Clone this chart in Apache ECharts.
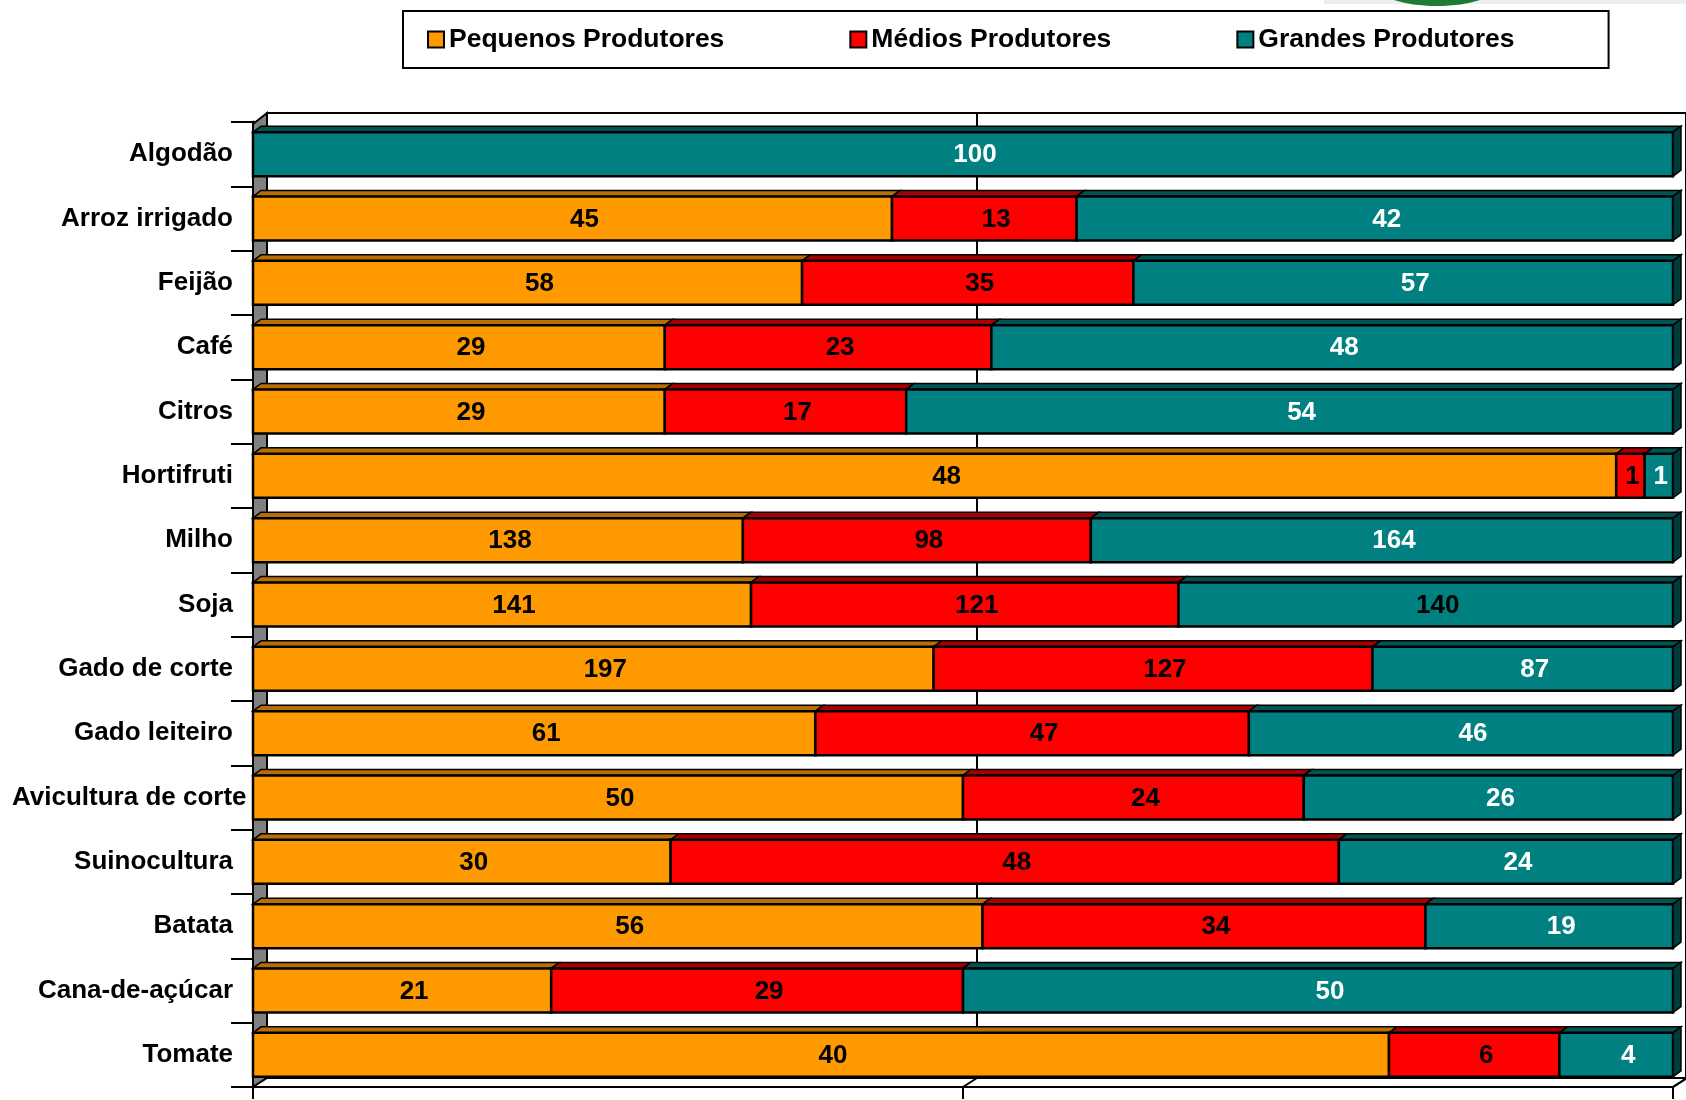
<!DOCTYPE html>
<html>
<head>
<meta charset="utf-8">
<script src="https://cdn.jsdelivr.net/npm/echarts@6/dist/echarts.min.js"></script>
<style>
html,body{margin:0;padding:0;background:#fff;}
#chart{width:1686px;height:1100px;}
</style>
</head>
<body>
<div id="chart"></div>
<script>
const categories = ['Algodão','Arroz irrigado','Feijão','Café','Citros','Hortifruti','Milho','Soja','Gado de corte','Gado leiteiro','Avicultura de corte','Suinocultura','Batata','Cana-de-açúcar','Tomate'];
const seriesNames = ['Pequenos Produtores','Médios Produtores','Grandes Produtores'];
const pequenos = [0,45,58,29,29,48,138,141,197,61,50,30,56,21,40];
const medios   = [0,13,35,23,17,1,98,121,127,47,24,48,34,29,6];
const grandes  = [100,42,57,48,54,1,164,140,87,46,26,24,19,50,4];
const xTicks = [0,50,100];

const raw = [pequenos, medios, grandes];
const frontColors = ['#FF9900','#FF0000','#008080'];
const topColors = ['#B86E00','#A80000','#005454'];
const sideColors = ['#8A5200','#7A0000','#003C3C'];
const labelColors = ['#000','#000','#fff'];
const FONT = '"Liberation Sans", Arial, sans-serif';
const CAT_FS = 26;
const BAR_DX = 8, BAR_DY = 6, WALL_DX = 14, WALL_DY = 9;
const GRID_LEFT = 253, LABEL_MARGIN = 20, LABEL_MIN_LEFT = 12;

// build stacked-percent segments from raw values
const segData = raw.map(() => []);
categories.forEach((c, i) => {
  const total = pequenos[i] + medios[i] + grandes[i];
  let acc = 0;
  raw.forEach((arr, s) => {
    const pct = arr[i] / total * 100;
    segData[s].push([acc, i, acc + pct, arr[i]]);
    acc += pct;
  });
});

// long labels are pushed right so they stay inside the canvas (like the original)
const measureCtx = document.createElement('canvas').getContext('2d');
measureCtx.font = 'bold ' + CAT_FS + 'px ' + FONT;
const catRich = {};
categories.forEach((c, i) => {
  const w = measureCtx.measureText(c).width;
  const avail = GRID_LEFT - LABEL_MARGIN - LABEL_MIN_LEFT;
  const shift = Math.max(0, w - avail);
  catRich['c' + i] = {fontSize: CAT_FS, fontWeight: 'bold', color: '#000', fontFamily: FONT,
                      padding: [0, -shift, 0, 0]};
});

function makeRender(s) {
  return function (params, api) {
    const x0v = api.value(0), cat = api.value(1), x1v = api.value(2), v = api.value(3);
    if (!(x1v - x0v > 0)) return {type: 'group', children: []};
    const p0 = api.coord([x0v, cat]);
    const p1 = api.coord([x1v, cat]);
    const band = api.size([0, 1])[1];
    const h = band * 0.685;
    const x0 = p0[0], x1 = p1[0];
    const yc = p0[1];
    const y0 = yc - h / 2, y1 = yc + h / 2;
    const children = [
      {type: 'polygon', shape: {points: [[x0, y0], [x0 + BAR_DX, y0 - BAR_DY], [x1 + BAR_DX, y0 - BAR_DY], [x1, y0]]},
       style: {fill: topColors[s], stroke: '#000', lineWidth: 1.5}},
      {type: 'rect', shape: {x: x0, y: y0, width: x1 - x0, height: h},
       style: {fill: frontColors[s], stroke: '#000', lineWidth: 2.5}}
    ];
    if (s === raw.length - 1) {
      children.push({type: 'polygon', shape: {points: [[x1, y0], [x1 + BAR_DX, y0 - BAR_DY], [x1 + BAR_DX, y1 - BAR_DY], [x1, y1]]},
        style: {fill: sideColors[s], stroke: '#000', lineWidth: 1.5}});
    }
    let col = labelColors[s];
    if (categories[cat] === 'Soja' && s === 2) col = '#000';
    const w = x1 - x0;
    const lx = w > 40 ? (x0 + x1) / 2 + 12 : (x0 + x1) / 2 + 2;
    children.push({type: 'text', z2: 10, style: {
      text: String(v), x: lx, y: yc + 1,
      align: 'center', verticalAlign: 'middle',
      fill: col, font: 'bold 26px ' + FONT
    }});
    return {type: 'group', children: children};
  };
}

function renderWall(params, api) {
  const n = categories.length;
  const band = api.size([0, 1])[1];
  const a = api.coord([0, 0]);
  const b = api.coord([100, n - 1]);
  const top = a[1] - band / 2, bottom = b[1] + band / 2;
  const xl = a[0], xr = b[0];
  const xm = api.coord([50, 0])[0];
  return {type: 'group', children: [
    {type: 'polygon', shape: {points: [[xl, top + 2], [xl + WALL_DX, top - WALL_DY], [xl + WALL_DX, bottom - WALL_DY], [xl, bottom]]},
     style: {fill: '#808080', stroke: '#000', lineWidth: 2}},
    {type: 'polygon', shape: {points: [[xl, bottom], [xl + WALL_DX, bottom - WALL_DY], [xr + WALL_DX, bottom - WALL_DY], [xr, bottom]]},
     style: {fill: '#fff', stroke: '#000', lineWidth: 2}},
    {type: 'line', shape: {x1: xm, y1: bottom, x2: xm + WALL_DX, y2: bottom - WALL_DY}, style: {stroke: '#000', lineWidth: 2}},
    {type: 'line', shape: {x1: xr, y1: bottom, x2: xr + WALL_DX, y2: bottom - WALL_DY}, style: {stroke: '#000', lineWidth: 2}}
  ]};
}

const chart = echarts.init(document.getElementById('chart'), null, {renderer: 'canvas'});

const series = [{
  type: 'custom', name: 'wall', xAxisIndex: 0, yAxisIndex: 0, z: 1, silent: true,
  renderItem: renderWall, data: [[0, 0]], encode: {x: 0, y: 1}
}];
seriesNames.forEach((name, s) => {
  series.push({
    type: 'custom', name: name, xAxisIndex: 0, yAxisIndex: 0, z: 3 + s,
    itemStyle: {color: frontColors[s]},
    renderItem: makeRender(s),
    data: segData[s],
    encode: {x: [0, 2], y: 1}
  });
});

chart.setOption({
  animation: false,
  backgroundColor: '#fff',
  textStyle: {fontFamily: FONT},
  graphic: [
    {type: 'rect', shape: {x: 1324, y: 0, width: 362, height: 4}, style: {fill: '#eeeeee'}, z: -1},
    {type: 'ellipse', shape: {cx: 1437, cy: -14, rx: 60, ry: 20}, style: {fill: '#1E7B34'}, z: 0}
  ],
  legend: {
    left: 403, top: 11,
    padding: [15, 94, 15, 24],
    borderColor: '#000', borderWidth: 2, backgroundColor: '#fff',
    itemGap: 125, itemWidth: 16, itemHeight: 16, itemTextGap: 5,
    icon: 'rect',
    itemStyle: {borderColor: '#000', borderWidth: 2},
    textStyle: {fontSize: 26.5, fontWeight: 'bold', color: '#000', fontFamily: FONT},
    data: seriesNames.map((n, s) => ({name: n, itemStyle: {color: frontColors[s]}}))
  },
  grid: [
    {left: GRID_LEFT, right: 13, top: 122, bottom: 13, containLabel: false},
    {left: GRID_LEFT + WALL_DX, right: 13 - WALL_DX, top: 122 - WALL_DY, bottom: 13 + WALL_DY,
     show: true, borderColor: '#000', borderWidth: 2, backgroundColor: '#fff', z: 0}
  ],
  xAxis: [
    {gridIndex: 0, type: 'value', min: xTicks[0], max: xTicks[xTicks.length - 1], interval: 50,
     axisLine: {show: true, lineStyle: {color: '#000', width: 2}},
     axisTick: {show: true, length: 12, lineStyle: {color: '#000', width: 2}},
     axisLabel: {show: false}, splitLine: {show: false}},
    {gridIndex: 1, type: 'value', min: xTicks[0], max: xTicks[xTicks.length - 1], interval: 50,
     axisLine: {show: false}, axisTick: {show: false}, axisLabel: {show: false},
     splitLine: {show: true, lineStyle: {color: '#000', width: 2}}}
  ],
  yAxis: [
    {gridIndex: 0, type: 'category', data: categories, inverse: true,
     axisLine: {show: true, lineStyle: {color: '#000', width: 3}},
     axisTick: {show: true, length: 22, lineStyle: {color: '#000', width: 2}},
     axisLabel: {margin: LABEL_MARGIN, fontSize: CAT_FS, fontWeight: 'bold', color: '#000', fontFamily: FONT,
       formatter: (v) => '{c' + categories.indexOf(v) + '|' + v + '}', rich: catRich},
     splitLine: {show: false}},
    {gridIndex: 1, type: 'category', data: categories, inverse: true, show: false}
  ],
  series: series
});
</script>
</body>
</html>
